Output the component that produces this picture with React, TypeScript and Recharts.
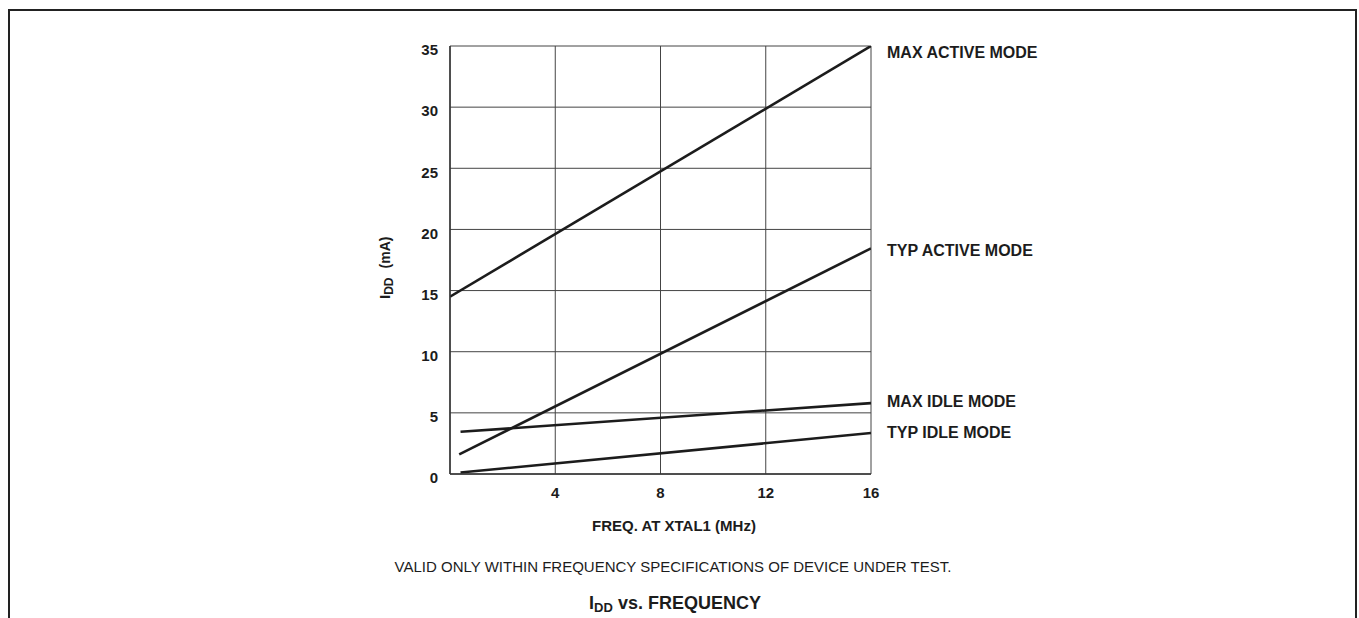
import React from "react";
import { CartesianGrid, Line, LineChart, XAxis, YAxis } from "recharts";

// frequency (MHz) and supply current (mA)
const FREQ_MAX_ACTIVE = [0, 16];
const IDD_MAX_ACTIVE = [14.5, 35];
const FREQ_TYP_ACTIVE = [0.35, 16];
const IDD_TYP_ACTIVE = [1.6, 18.45];
const FREQ_MAX_IDLE = [0.4, 16];
const IDD_MAX_IDLE = [3.45, 5.8];
const FREQ_TYP_IDLE = [0.4, 16];
const IDD_TYP_IDLE = [0.12, 3.35];

const SERIES_NAMES = ["MAX ACTIVE MODE", "TYP ACTIVE MODE", "MAX IDLE MODE", "TYP IDLE MODE"];
const X_TICKS = [4, 8, 12, 16];
const Y_TICKS = [0, 5, 10, 15, 20, 25, 30, 35];

const FONT = "'Liberation Sans', Arial, Helvetica, sans-serif";
const INK = "#1c1c1c";
// vertical nudge of each end label relative to its line end
const LABEL_DY = [6, 2.5, -1.6, -0.8];

const toRows = (f: number[], v: number[]) => f.map((x, i) => ({ freq: x, idd: v[i] }));

const series = [
  toRows(FREQ_MAX_ACTIVE, IDD_MAX_ACTIVE),
  toRows(FREQ_TYP_ACTIVE, IDD_TYP_ACTIVE),
  toRows(FREQ_MAX_IDLE, IDD_MAX_IDLE),
  toRows(FREQ_TYP_IDLE, IDD_TYP_IDLE),
];

const endLabel = (si: number) => (props: any) => {
  const { x, y, index } = props;
  if (index !== series[si].length - 1) return <g key={`l${si}-${index}`} />;
  return (
    <text
      key={`l${si}-${index}`}
      x={x + 16}
      y={y + LABEL_DY[si] + 5.6}
      fontFamily={FONT}
      fontWeight="bold"
      fontSize={16}
      fill={INK}
    >
      {SERIES_NAMES[si]}
    </text>
  );
};

export default function App() {
  const W = 1359;
  const H = 618;
  return (
    <div
      style={{
        position: "fixed",
        left: 0,
        top: 0,
        width: W,
        height: H,
        overflow: "hidden",
        background: "#fff",
      }}
    >
      <div
        style={{
          position: "absolute",
          left: 8,
          top: 9,
          width: W - 8 - 2 - 4,
          height: 700,
          borderLeft: "2px solid #222",
          borderTop: "2px solid #222",
          borderRight: "2px solid #222",
        }}
      />
      <div style={{ position: "absolute", left: 0, top: 0 }}>
        <LineChart
          width={W}
          height={H}
          margin={{ top: 46, right: 488, bottom: 114, left: 390 }}
        >
          <CartesianGrid stroke="#444" strokeWidth={1} />
          <XAxis
            type="number"
            dataKey="freq"
            domain={[0, 16]}
            ticks={X_TICKS}
            allowDataOverflow
            height={30}
            tickLine={false}
            tickSize={0}
            tickMargin={13}
            axisLine={{ stroke: "#333", strokeWidth: 1.5 }}
            tick={{ fill: INK, fontSize: 15, fontWeight: "bold", fontFamily: FONT }}
          />
          <YAxis
            type="number"
            domain={[0, 35]}
            ticks={Y_TICKS}
            allowDataOverflow
            width={60}
            tickLine={false}
            tickSize={0}
            tickMargin={12}
            axisLine={{ stroke: "#333", strokeWidth: 1.5 }}
            tick={{ fill: INK, fontSize: 15, fontWeight: "bold", fontFamily: FONT, dy: 4 }}
          />
          {series.map((rows, si) => (
            <Line
              key={SERIES_NAMES[si]}
              data={rows}
              dataKey="idd"
              type="linear"
              stroke={INK}
              strokeWidth={2.6}
              dot={false}
              activeDot={false}
              isAnimationActive={false}
              label={endLabel(si)}
            />
          ))}
        </LineChart>
      </div>
      <svg
        width={W}
        height={H}
        style={{ position: "absolute", left: 0, top: 0, pointerEvents: "none" }}
      >
        <text
          transform="translate(390,299) rotate(-90)"
          fontFamily={FONT}
          fontWeight="bold"
          fontSize={15}
          fill={INK}
        >
          I
          <tspan fontSize={12} dy={3}>
            DD
          </tspan>
          <tspan fontSize={14} dx={9} dy={-3}>
            (mA)
          </tspan>
        </text>
        <text
          x={674}
          y={531}
          textAnchor="middle"
          fontFamily={FONT}
          fontWeight="bold"
          fontSize={15}
          fill={INK}
        >
          FREQ. AT XTAL1 (MHz)
        </text>
        <text
          x={673}
          y={572}
          textAnchor="middle"
          fontFamily={FONT}
          fontSize={15}
          fill={INK}
        >
          VALID ONLY WITHIN FREQUENCY SPECIFICATIONS OF DEVICE UNDER TEST.
        </text>
        <text
          x={675}
          y={609}
          textAnchor="middle"
          fontFamily={FONT}
          fontWeight="bold"
          fontSize={18}
          fill={INK}
        >
          I
          <tspan fontSize={13} dy={3}>
            DD
          </tspan>
          <tspan dy={-3}> vs. FREQUENCY</tspan>
        </text>
      </svg>
    </div>
  );
}
